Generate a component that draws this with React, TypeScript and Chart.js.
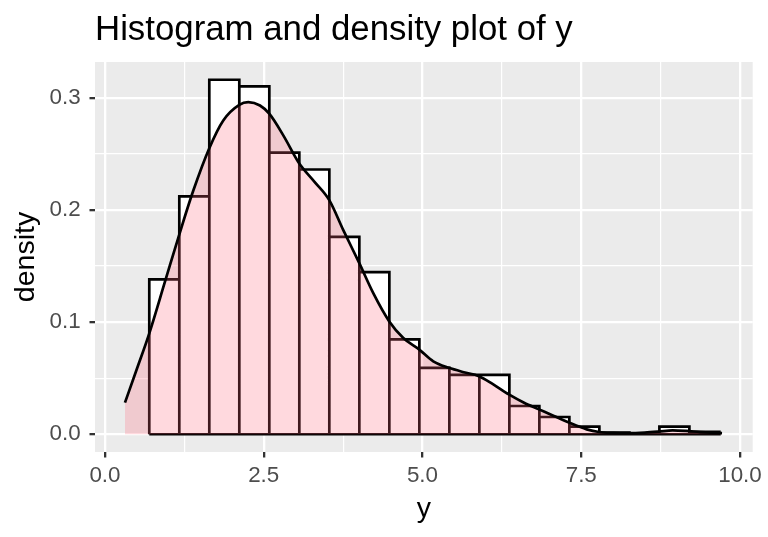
import React, { useEffect, useRef } from 'react';
import { Chart, registerables } from 'chart.js';

Chart.register(...registerables);

const chartTitle = 'Histogram and density plot of y';
const xAxisTitle = 'y';
const yAxisTitle = 'density';

// histogram bins (centres, common width) and their density heights
const binWidth = 0.4725;
const binCenters = [0.934, 1.407, 1.879, 2.352, 2.824, 3.297, 3.769, 4.242, 4.714, 5.187, 5.659, 6.132, 6.604, 7.077, 7.549, 8.022, 8.494, 8.967, 9.439];
const binDensity = [0.138, 0.212, 0.316, 0.310, 0.251, 0.236, 0.176, 0.1445, 0.0846, 0.0592, 0.053, 0.053, 0.0252, 0.0154, 0.0068, 0.0015, 0, 0.0068, 0.0021];

// kernel density curve
const densityX = [0.315, 0.499, 0.698, 0.945, 1.17, 1.39, 1.643, 1.863, 2.115, 2.257, 2.441, 2.587, 2.808, 3.06, 3.3, 3.532, 3.753, 4.005, 4.225, 4.477, 4.698, 4.95, 5.17, 5.417, 5.65, 5.89, 6.115, 6.36, 6.6, 6.835, 7.07, 7.307, 7.586, 7.78, 8.0, 8.25, 8.5, 8.72, 8.94, 9.15, 9.37, 9.55, 9.717];
const densityY = [0.0282, 0.0577, 0.09, 0.136, 0.178, 0.217, 0.255, 0.2797, 0.2936, 0.296, 0.293, 0.2857, 0.2664, 0.2413, 0.225, 0.2087, 0.182, 0.1525, 0.1258, 0.1006, 0.0858, 0.0755, 0.065, 0.0592, 0.0553, 0.0518, 0.0444, 0.0355, 0.0281, 0.0222, 0.0163, 0.0104, 0.0044, 0.002, 0.0012, 0.001, 0.0015, 0.0024, 0.0035, 0.003, 0.002, 0.0014, 0.001];

// axes
const xMajorTicks = [0, 2.5, 5, 7.5, 10];
const xMajorLabels = ['0.0', '2.5', '5.0', '7.5', '10.0'];
const xMinorTicks = [1.25, 3.75, 6.25, 8.75];
const yMajorTicks = [0, 0.1, 0.2, 0.3];
const yMajorLabels = ['0.0', '0.1', '0.2', '0.3'];
const yMinorTicks = [0.05, 0.15, 0.25];
const xRange = [-0.157, 10.2];
const yRange = [-0.0158, 0.3318];

const FONT = '"Liberation Sans", Arial, Helvetica, sans-serif';
const GEOM_W = 2.7;
const MAJOR_W = 2.3;
const MINOR_W = 1.2;

function isMajor(list: number[], v: number) {
  return list.some((m) => Math.abs(m - v) < 1e-9);
}

// outline path of the histogram bars (built from the bin arrays)
function histogramOutline() {
  const pts: { x: number; y: number }[] = [];
  binCenters.forEach((c, i) => {
    const l = c - binWidth / 2;
    const r = c + binWidth / 2;
    pts.push({ x: l, y: 0 }, { x: l, y: binDensity[i] }, { x: r, y: binDensity[i] }, { x: r, y: 0 });
  });
  pts.push({ x: binCenters[0] - binWidth / 2, y: 0 });
  return pts;
}

export default function App() {
  const ref = useRef<HTMLCanvasElement>(null);

  useEffect(() => {
    const canvas = ref.current!;

    const panelBg = {
      id: 'panelBg',
      beforeDraw(chart: any) {
        const { ctx, chartArea: a } = chart;
        ctx.save();
        ctx.fillStyle = '#EBEBEB';
        ctx.fillRect(a.left, a.top, a.right - a.left, a.bottom - a.top);
        ctx.restore();
      },
    };

    const titlePlugin = {
      id: 'plotTitle',
      afterDraw(chart: any) {
        const { ctx, chartArea: a } = chart;
        ctx.save();
        ctx.font = `34.8px ${FONT}`;
        ctx.fillStyle = '#000000';
        ctx.textAlign = 'left';
        ctx.textBaseline = 'alphabetic';
        ctx.fillText(chartTitle, a.left, 40);
        ctx.restore();
      },
    };

    const chart = new Chart(canvas, {
      type: 'bar',
      data: {
        datasets: [
          {
            type: 'line',
            label: 'density',
            data: densityX.map((x, i) => ({ x, y: densityY[i] })),
            borderColor: '#000000',
            borderWidth: GEOM_W,
            backgroundColor: 'rgba(255,105,125,0.25)',
            fill: 'origin',
            pointRadius: 0,
            cubicInterpolationMode: 'monotone',
            order: 0,
          } as any,
          {
            type: 'line',
            label: 'outline',
            data: histogramOutline(),
            borderColor: '#000000',
            borderWidth: GEOM_W,
            borderJoinStyle: 'miter',
            borderCapStyle: 'butt',
            fill: false,
            pointRadius: 0,
            tension: 0,
            order: 1,
          } as any,
          {
            type: 'bar',
            label: 'count',
            data: binCenters.map((x, i) => ({ x, y: binDensity[i] })),
            backgroundColor: '#FFFFFF',
            borderWidth: 0,
            inflateAmount: 0,
            barPercentage: 1,
            categoryPercentage: 1,
            grouped: false,
            order: 2,
          } as any,
        ],
      },
      options: {
        animation: false,
        responsive: false,
        events: [],
        layout: { padding: { top: 62, right: 15.3, left: 0, bottom: 0 } },
        plugins: {
          legend: { display: false },
          tooltip: { enabled: false },
          title: { display: false },
        },
        scales: {
          x: {
            type: 'linear',
            min: xRange[0],
            max: xRange[1],
            offset: false,
            afterBuildTicks: (scale: any) => {
              scale.ticks = [...xMajorTicks, ...xMinorTicks].sort((a, b) => a - b).map((v) => ({ value: v }));
            },
            afterFit: (scale: any) => {
              scale.height = 85;
            },
            border: { display: false },
            grid: {
              offset: false,
              color: '#FFFFFF',
              lineWidth: (c: any) => (isMajor(xMajorTicks, c.tick.value) ? MAJOR_W : MINOR_W),
              tickLength: 5.5,
              tickColor: (c: any) => (isMajor(xMajorTicks, c.tick.value) ? '#333333' : 'rgba(0,0,0,0)'),
              tickWidth: MAJOR_W,
            },
            ticks: {
              autoSkip: false,
              maxRotation: 0,
              padding: 4.5,
              color: '#4D4D4D',
              font: { family: FONT, size: 22.4 },
              callback: (v: any) => {
                const i = xMajorTicks.findIndex((m) => Math.abs(m - Number(v)) < 1e-9);
                return i >= 0 ? xMajorLabels[i] : '';
              },
            },
            title: {
              display: true,
              text: xAxisTitle,
              color: '#000000',
              font: { family: FONT, size: 28.5, lineHeight: 1.2 },
              padding: { top: 0, bottom: 11 },
            },
          },
          y: {
            type: 'linear',
            min: yRange[0],
            max: yRange[1],
            afterBuildTicks: (scale: any) => {
              scale.ticks = [...yMajorTicks, ...yMinorTicks].sort((a, b) => a - b).map((v) => ({ value: v }));
            },
            afterFit: (scale: any) => {
              scale.width = 95;
            },
            border: { display: false },
            grid: {
              color: '#FFFFFF',
              lineWidth: (c: any) => (isMajor(yMajorTicks, c.tick.value) ? MAJOR_W : MINOR_W),
              tickLength: 5.5,
              tickColor: (c: any) => (isMajor(yMajorTicks, c.tick.value) ? '#333333' : 'rgba(0,0,0,0)'),
              tickWidth: MAJOR_W,
            },
            ticks: {
              autoSkip: false,
              padding: 8.8,
              color: '#4D4D4D',
              font: { family: FONT, size: 22.4 },
              callback: (v: any) => {
                const i = yMajorTicks.findIndex((m) => Math.abs(m - Number(v)) < 1e-9);
                return i >= 0 ? yMajorLabels[i] : '';
              },
            },
            title: {
              display: true,
              text: yAxisTitle,
              color: '#000000',
              font: { family: FONT, size: 28.5, lineHeight: 1.2 },
              padding: { top: 8.8, bottom: 0 },
            },
          },
        },
      } as any,
      plugins: [panelBg, titlePlugin],
    });

    return () => chart.destroy();
  }, []);

  return (
    <div style={{ position: 'absolute', left: 0, top: 0, width: 768, height: 537, background: '#FFFFFF' }}>
      <canvas ref={ref} width={768} height={537} style={{ display: 'block', width: 768, height: 537 }} />
    </div>
  );
}
